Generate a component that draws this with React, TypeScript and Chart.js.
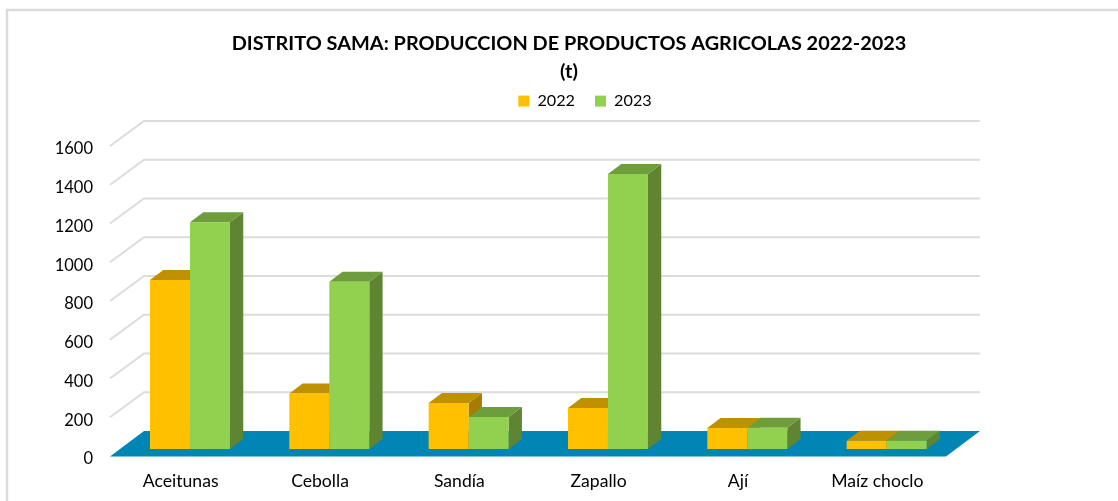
import React, { useEffect, useRef } from "react";
import { Chart, registerables } from "chart.js";

Chart.register(...registerables);

const categories = ["Aceitunas", "Cebolla", "Sandía", "Zapallo", "Ají", "Maíz choclo"];
const values2022 = [872, 287, 237, 212, 108, 43];
const values2023 = [1171, 863, 165, 1419, 110, 42];
const seriesNames = ["2022", "2023"];
const titleLines = ["DISTRITO SAMA: PRODUCCION DE PRODUCTOS AGRICOLAS 2022-2023", "(t)"];

const FRONT = ["#FFC000", "#92D050"];
const TOP = ["#BF9000", "#6E9D3C"];
const SIDE = ["#A67D00", "#5F8533"];
const FLOOR = "#0085B5";
const GRID = "#DCDCDC";
const TEXT = "#000000";
const FONT = "Lato";

const DEPTH_X = 34;
const DEPTH_Y = 25;
const BAR_SHIFT_X = 10.3;
const BAR_SHIFT_Y = 7;
const BAR_DEPTH_X = 13.3;
const BAR_DEPTH_Y = 10;

const poly = (ctx: CanvasRenderingContext2D, pts: number[][], fill: string) => {
  ctx.beginPath();
  pts.forEach(([x, y], i) => (i ? ctx.lineTo(x, y) : ctx.moveTo(x, y)));
  ctx.closePath();
  ctx.fillStyle = fill;
  ctx.fill();
};

const threeD = {
  id: "threeD",
  beforeLayout(chart: any) {
    const legend = chart.legend;
    if (legend && !legend.__patched) {
      const fit = legend.fit;
      legend.fit = function () {
        fit.call(this);
        this.height = 58.1;
      };
      legend.__patched = true;
    }
  },
  afterLayout(chart: any) {
    chart.titleBlock.left += 96;
    chart.titleBlock.right += 96;
    chart.legend.left += 112;
    chart.legend.right += 112;
    chart.legend.top = 73;
  },
  beforeDraw(chart: any) {
    const { ctx } = chart;
    ctx.save();
    ctx.fillStyle = "#FFFFFF";
    ctx.fillRect(0, 0, chart.width, chart.height);
    ctx.strokeStyle = "#DCDCDC";
    ctx.lineWidth = 2.5;
    ctx.beginPath();
    ctx.moveTo(7, 501);
    ctx.lineTo(7, 10);
    ctx.lineTo(1118, 10);
    ctx.stroke();
    ctx.restore();
  },
  beforeDatasetsDraw(chart: any) {
    const { ctx, chartArea, scales } = chart;
    const { left, right } = chartArea;
    const y = scales.y;
    ctx.save();
    ctx.strokeStyle = GRID;
    ctx.lineWidth = 2;
    y.ticks.forEach((t: any) => {
      if (t.value === 0) return;
      const py = y.getPixelForValue(t.value);
      ctx.beginPath();
      ctx.moveTo(left, py);
      ctx.lineTo(left + DEPTH_X, py - DEPTH_Y);
      ctx.lineTo(right + DEPTH_X, py - DEPTH_Y);
      ctx.stroke();
    });
    const y0 = y.getPixelForValue(0);
    poly(
      ctx,
      [
        [left, y0 + 0.5],
        [left + DEPTH_X, y0 - DEPTH_Y],
        [right + DEPTH_X, y0 - DEPTH_Y],
        [right, y0 + 0.5],
      ],
      FLOOR
    );
    // depth faces: 2022 first, then 2023; the front faces are drawn afterwards by the bar elements
    ctx.translate(BAR_SHIFT_X, -BAR_SHIFT_Y);
    [0, 1].forEach((idx) => {
      chart.getDatasetMeta(idx).data.forEach((el: any) => {
        const l = el.x - el.width / 2;
        const r = el.x + el.width / 2;
        const t = el.y;
        const b = el.base;
        poly(ctx, [[r, t], [r + BAR_DEPTH_X, t - BAR_DEPTH_Y], [r + BAR_DEPTH_X, b - BAR_DEPTH_Y], [r, b]], SIDE[idx]);
        poly(ctx, [[l, t], [l + BAR_DEPTH_X, t - BAR_DEPTH_Y], [r + BAR_DEPTH_X, t - BAR_DEPTH_Y], [r, t]], TOP[idx]);
      });
    });
    ctx.restore();
  },
  beforeDatasetDraw(chart: any) {
    chart.ctx.save();
    chart.ctx.translate(BAR_SHIFT_X, -BAR_SHIFT_Y);
  },
  afterDatasetDraw(chart: any) {
    chart.ctx.restore();
  },
};

export default function App() {
  const ref = useRef<HTMLCanvasElement>(null);
  useEffect(() => {
    const chart = new Chart(ref.current as HTMLCanvasElement, {
      type: "bar",
      data: {
        labels: categories,
        datasets: [
          { label: seriesNames[0], data: values2022, backgroundColor: FRONT[0], clip: false },
          { label: seriesNames[1], data: values2023, backgroundColor: FRONT[1], clip: false },
        ] as any,
      },
      plugins: [threeD as any],
      options: {
        responsive: false,
        animation: false,
        devicePixelRatio: 1,
        layout: { padding: { left: 0, right: 172, top: 29, bottom: 0 } },
        datasets: { bar: { categoryPercentage: 0.574, barPercentage: 1 } },
        plugins: {
          tooltip: { enabled: false },
          title: {
            display: true,
            text: titleLines,
            color: "#000000",
            font: { family: FONT, size: 19.9, weight: "bold", lineHeight: 1.43 },
            padding: { top: 0, bottom: 2 },
          },
          legend: {
            display: true,
            position: "top",
            labels: {
              color: TEXT,
              font: { family: FONT, size: 16.2 },
              boxWidth: 11,
              boxHeight: 11,
              padding: 20,
            },
          },
        },
        scales: {
          x: {
            grid: { display: false, drawTicks: false },
            border: { display: false },
            ticks: { color: TEXT, font: { family: FONT, size: 17.6 }, padding: 15, maxRotation: 0, labelOffset: 1 },
            afterFit(s: any) {
              s.height = 45;
            },
          },
          y: {
            min: 0,
            max: 1600,
            grid: { display: false, drawTicks: false },
            border: { display: false },
            ticks: {
              stepSize: 200,
              color: TEXT,
              font: { family: FONT, size: 16.5 },
              padding: 17,
              labelOffset: 3,
              callback: (v: any) => String(v),
            },
            afterFit(s: any) {
              s.width = 110;
            },
          },
        },
      } as any,
    });
    return () => chart.destroy();
  }, []);
  return (
    <div style={{ position: "fixed", left: 0, top: 0, width: 1118, height: 501, background: "#fff" }}>
      <canvas ref={ref} width={1118} height={501} style={{ display: "block" }} />
    </div>
  );
}
